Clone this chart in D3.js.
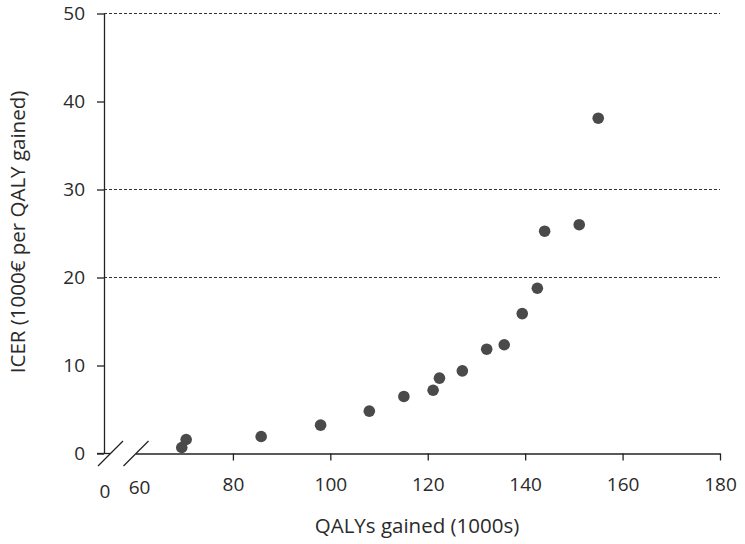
<!DOCTYPE html>
<html><head><meta charset="utf-8">
<script src="https://cdn.jsdelivr.net/npm/d3@7"></script>
<style>body{margin:0;background:#fff}svg{display:block}text{font-family:"Open Sans",sans-serif;fill:#2a2a2a}</style>
</head><body><svg id="c" width="745" height="544"></svg>
<script>
const qalys = [69.5,70.4,85.8,98.0,108.0,115.1,121.1,122.4,127.1,132.1,135.7,139.4,142.5,144.0,151.1,155.0];
const icer  = [0.68,1.59,1.93,3.22,4.81,6.48,7.19,8.56,9.39,11.85,12.36,15.9,18.78,25.26,26.0,38.1];
const xTicks = [80,100,120,140,160,180];
const yTicks = [0,10,20,30,40,50];
const thresholds = [20,30,50];
const xTitle = "QALYs gained (1000s)";
const yTitle = "ICER (1000€ per QALY gained)";

const svg = d3.select("#c");
const axisX0 = 104, axisY0 = 453.5;
const x = d3.scaleLinear().domain([60,180]).range([135.5,720]);
const y = d3.scaleLinear().domain([0,50]).range([axisY0,13.5]);
const fs = 19, tfs = 20.5;

// threshold dashed lines
svg.selectAll("line.th").data(thresholds).join("line")
  .attr("x1",axisX0).attr("x2",x(180)).attr("y1",d=>y(d)).attr("y2",d=>y(d))
  .attr("stroke","#333").attr("stroke-width",1).attr("stroke-dasharray","3,2");

// y axis
const ya = svg.append("g").attr("transform",`translate(${axisX0},0)`)
  .call(d3.axisLeft(y).tickValues(yTicks).tickSize(7).tickSizeOuter(0).tickPadding(12));
ya.select(".domain").attr("stroke","#222").attr("stroke-width",1.3);
ya.selectAll(".tick line").attr("stroke","#222").attr("stroke-width",1.3);
ya.selectAll(".tick text").attr("font-size",fs).attr("font-family","Open Sans").attr("fill","#2a2a2a");

// x axis
const xa = svg.append("g").attr("transform",`translate(0,${axisY0})`)
  .call(d3.axisBottom(x).tickValues(xTicks).tickSize(7).tickSizeOuter(0).tickPadding(17));
xa.select(".domain").attr("stroke","#222").attr("stroke-width",1.3);
xa.selectAll(".tick line").attr("stroke","#222").attr("stroke-width",1.3);
xa.selectAll(".tick text").attr("font-size",fs).attr("font-family","Open Sans").attr("fill","#2a2a2a");

// stub between y-axis and break
svg.append("line").attr("x1",axisX0-7).attr("x2",110).attr("y1",axisY0).attr("y2",axisY0)
  .attr("stroke","#222").attr("stroke-width",1.3);
// break marks
[0,25.5].forEach(o=>{
  svg.append("line").attr("x1",98+o).attr("y1",466).attr("x2",123+o).attr("y2",441)
    .attr("stroke","#222").attr("stroke-width",1.3);
});
// extra labels 0 and 60 on x axis
svg.append("text").attr("x",axisX0+1).attr("y",498).attr("text-anchor","middle").attr("font-size",fs).text("0");
svg.append("text").attr("x",x(60)+4).attr("y",494).attr("text-anchor","middle").attr("font-size",fs).text("60");

// points
svg.selectAll("circle").data(qalys).join("circle")
  .attr("cx",d=>x(d)).attr("cy",(d,i)=>y(icer[i])).attr("r",5.8).attr("fill","#4a4a4a");

// titles
svg.append("text").attr("x",417).attr("y",533).attr("text-anchor","middle").attr("font-size",tfs).text(xTitle);
svg.append("text").attr("transform","translate(25,232) rotate(-90)").attr("text-anchor","middle").attr("font-size",tfs).text(yTitle);
</script></body></html>
